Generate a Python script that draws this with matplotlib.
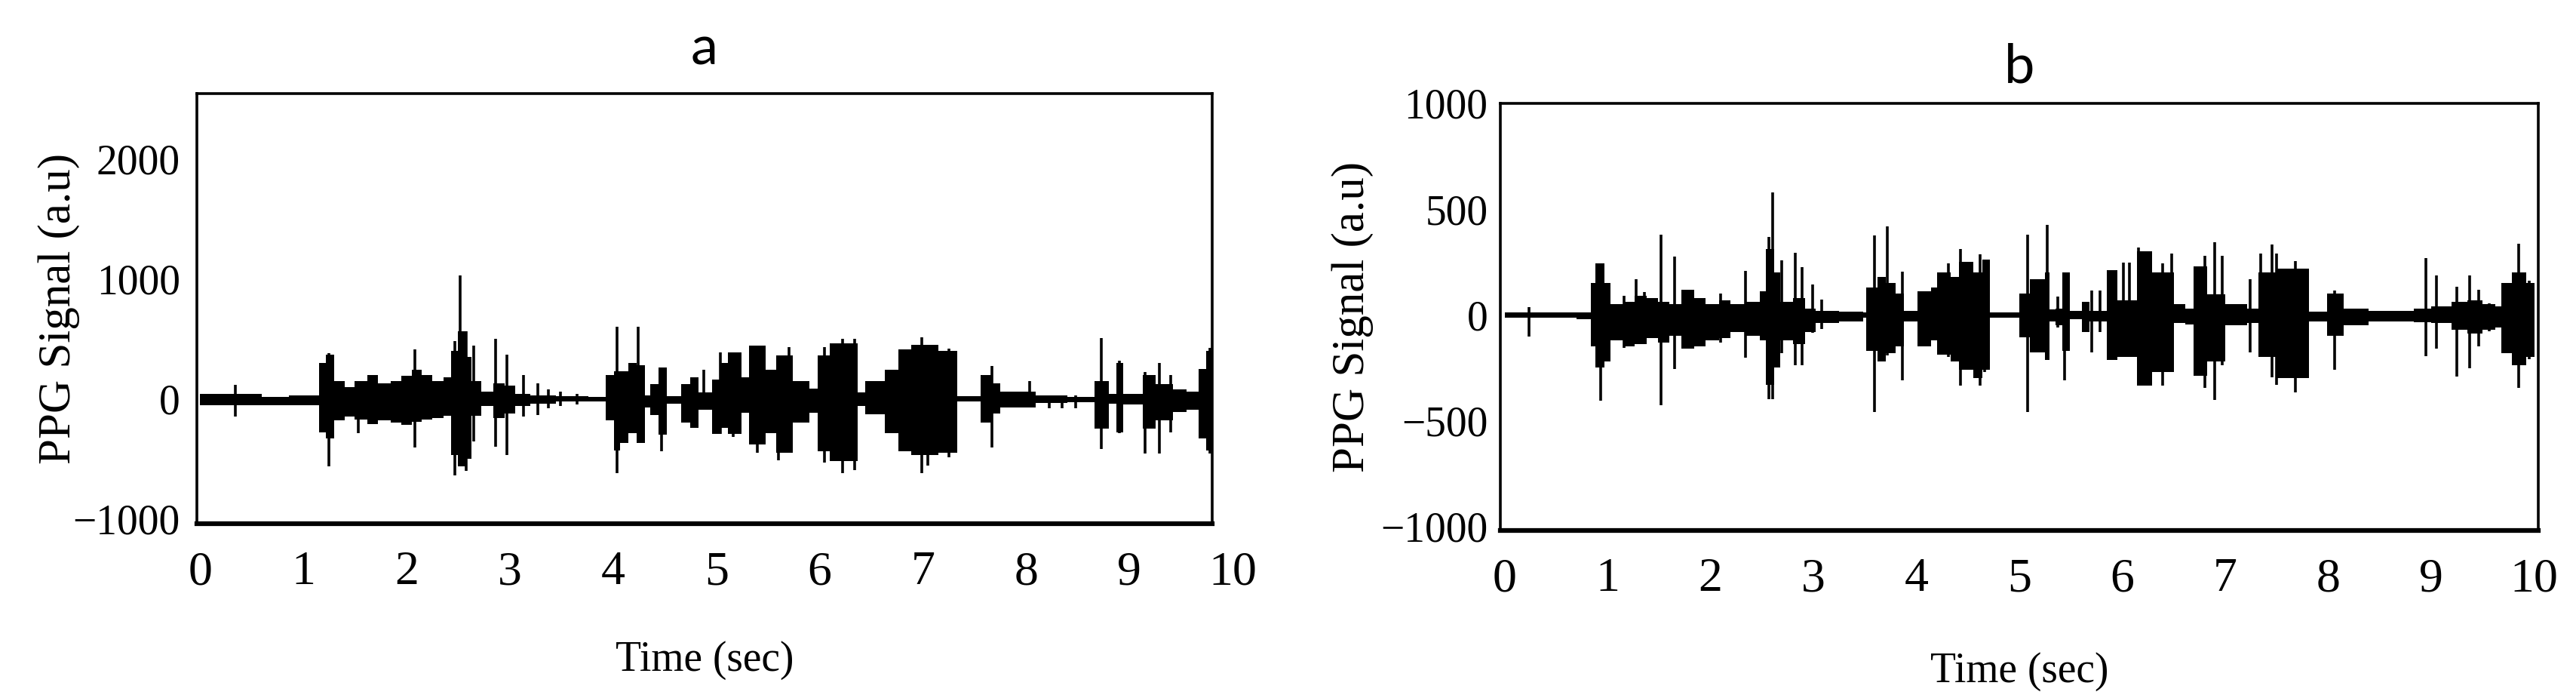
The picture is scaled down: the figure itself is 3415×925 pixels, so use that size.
import numpy as np
import matplotlib.pyplot as plt

# ---- panel a: dense band, piecewise (segment start time, top, bottom) ----
a_seg_t = [0.00, 0.60, 0.86, 1.15, 1.22, 1.30, 1.40, 1.50, 1.62, 1.72, 1.85, 1.95,
           2.05, 2.15, 2.25, 2.36, 2.43, 2.50, 2.58, 2.63, 2.72, 2.84, 2.95, 3.05,
           3.20, 3.45, 3.76, 3.93, 4.01, 4.07, 4.15, 4.23, 4.31, 4.36, 4.44, 4.52,
           4.66, 4.75, 4.83, 4.96, 5.04, 5.11, 5.24, 5.32, 5.48, 5.58, 5.74, 5.90,
           5.98, 6.10, 6.37, 6.44, 6.63, 6.76, 6.89, 7.15, 7.33, 7.56, 7.66, 7.75,
           8.09, 8.40, 8.66, 8.80, 8.87, 8.94, 9.13, 9.25, 9.42, 9.55, 9.67, 9.74]
a_seg_top = [38, 15, 25, 300, 370, 150, 100, 150, 200, 130, 150, 190,
             240, 200, 150, 180, 400, 560, 350, 150, 60, 130, 110, 40,
             30, 20, 17, 200, 230, 230, 300, 280, 30, 125, 260, 20,
             125, 180, 50, 160, 300, 387, 180, 440, 240, 360, 150, 84,
             360, 460, 50, 150, 240, 408, 450, 400, 20, 200, 130, 60,
             25, 15, 150, 40, 300, 40, 200, 120, 80, 60, 250, 400]
a_seg_bot = [-54, -54, -54, -280, -330, -180, -150, -170, -210, -180, -200, -220,
             -190, -170, -160, -140, -470, -560, -500, -140, -60, -160, -120, -60,
             -40, -25, -21, -180, -430, -366, -283, -366, -73, -136, -300, -42,
             -200, -240, -94, -293, -240, -290, -115, -380, -283, -450, -200, -115,
             -440, -520, -60, -130, -283, -440, -470, -450, -21, -200, -120, -70,
             -35, -30, -250, -40, -280, -50, -250, -180, -110, -90, -330, -430]
a_end = 9.80

# ---- panel a: isolated spikes (time, top, bottom) ----
a_spk_t = [0.34, 1.25, 1.53, 2.08, 2.47, 2.52, 2.58, 2.65, 2.86, 2.97, 3.13, 3.27,
           3.37, 3.49, 3.65, 4.04, 4.24, 4.47, 4.80, 4.88, 5.04, 5.16, 5.40, 5.60,
           5.70, 6.05, 6.22, 6.34, 6.99, 7.05, 7.25, 7.67, 8.03, 8.22, 8.35, 8.48,
           8.73, 8.90, 9.15, 9.29, 9.40, 9.78]
a_spk_top = [115, 377, 100, 408, 480, 1026, 560, 440, 500, 365, 200, 126,
             80, 60, 40, 600, 600, 260, 180, 240, 387, 387, 440, 300,
             430, 430, 500, 500, 513, 440, 420, 272, 150, 30, 30, 30,
             507, 318, 225, 297, 200, 423]
a_spk_bot = [-147, -565, -283, -408, -640, -560, -600, -356, -400, -470, -147, -136,
             -80, -60, -50, -618, -366, -440, -240, -94, -293, -320, -450, -513,
             -450, -534, -618, -597, -618, -555, -490, -408, -30, -80, -80, -80,
             -415, -289, -457, -457, -280, -457]

# ---- panel b: dense band ----
b_seg_t = [0.00, 0.70, 0.84, 0.88, 0.97, 1.03, 1.15, 1.26, 1.38, 1.49, 1.60, 1.72,
           1.84, 1.95, 2.08, 2.19, 2.35, 2.48, 2.54, 2.62, 2.68, 2.80, 2.92, 3.02,
           3.25, 3.48, 3.51, 3.62, 3.70, 3.80, 3.88, 4.01, 4.14, 4.20, 4.33, 4.41,
           4.55, 4.64, 4.71, 5.00, 5.10, 5.25, 5.29, 5.35, 5.42, 5.49, 5.61, 5.68,
           5.85, 5.95, 6.14, 6.29, 6.50, 6.61, 6.69, 6.82, 7.00, 7.21, 7.32, 7.50,
           7.81, 7.99, 8.15, 8.39, 8.83, 9.00, 9.20, 9.35, 9.50, 9.62, 9.68, 9.78,
           9.92]
b_seg_top = [10, 10, 150, 245, 150, 50, 60, 90, 80, 60, 50, 120,
             80, 50, 70, 50, 60, 110, 310, 200, 60, 80, 30, 20,
             15, 10, 130, 180, 150, 100, 20, 110, 130, 200, 180, 250,
             200, 260, 10, 100, 170, 200, 26, 30, 200, 20, 62, 20,
             212, 70, 300, 200, 50, 30, 230, 98, 50, 30, 200, 220,
             15, 100, 30, 18, 30, 40, 60, 70, 50, 40, 150, 200,
             150]
b_seg_bot = [-12, -20, -150, -250, -220, -120, -150, -140, -110, -130, -100, -160,
             -150, -120, -110, -80, -100, -120, -330, -250, -120, -140, -80, -40,
             -30, -12, -170, -220, -180, -150, -30, -150, -120, -190, -220, -260,
             -300, -260, -12, -105, -177, -213, -30, -50, -170, -20, -81, -30,
             -213, -200, -333, -270, -40, -45, -290, -220, -50, -40, -200, -300,
             -30, -100, -50, -30, -35, -40, -70, -90, -70, -60, -180, -240,
             -200]
b_end = 10.0

# ---- panel b: isolated spikes ----
b_spk_t = [0.24, 0.93, 1.16, 1.28, 1.36, 1.52, 1.65, 1.76, 2.10, 2.34, 2.57, 2.60,
           2.69, 2.82, 2.89, 2.99, 3.08, 3.59, 3.72, 3.86, 4.31, 4.43, 4.62, 4.66,
           5.08, 5.27, 5.37, 5.44, 5.70, 5.78, 6.01, 6.07, 6.16, 6.39, 6.48, 6.80,
           6.90, 6.97, 7.24, 7.34, 7.45, 7.50, 7.68, 8.06, 8.95, 9.05, 9.25, 9.37,
           9.46, 9.56, 9.85, 9.95]
b_spk_top = [36, 245, 90, 167, 108, 380, 275, 120, 100, 209, 370, 580,
             257, 293, 227, 144, 72, 377, 419, 203, 245, 311, 287, 220,
             380, 427, 86, 200, 116, 116, 248, 248, 320, 242, 290, 278,
             343, 278, 170, 290, 331, 290, 254, 116, 269, 185, 132, 185,
             120, 54, 335, 160]
b_spk_bot = [-102, -407, -155, -120, -130, -428, -257, -160, -130, -203, -400, -400,
             -180, -239, -239, -85, -66, -460, -191, -311, -200, -335, -335, -270,
             -458, -213, -60, -309, -177, -81, -200, -180, -333, -333, -250, -345,
             -404, -240, -177, -200, -297, -330, -368, -261, -197, -161, -293, -251,
             -150, -78, -347, -210]

serif = "Liberation Serif"

fig = plt.figure(figsize=(34.16, 9.25), dpi=100)
ax_a = fig.add_axes([0.0764, 0.2497, 0.394, 0.6162])
ax_b = fig.add_axes([0.5823, 0.2400, 0.4028, 0.6119])


def draw_panel(ax, seg_t, seg_top, seg_bot, t_end, spk_t, spk_top, spk_bot):
    t = np.append(seg_t, t_end)
    top = np.append(seg_top, seg_top[-1])
    bot = np.append(seg_bot, seg_bot[-1])
    ax.fill_between(t, bot, top, step="post", color="black", lw=0)
    ax.vlines(spk_t, spk_bot, spk_top, color="black", lw=2.6)
    for side in ["top", "bottom", "left", "right"]:
        ax.spines[side].set_linewidth(2.6)
    ax.spines["bottom"].set_linewidth(4.5)
    ax.tick_params(length=0, labelsize=40)
    ax.tick_params(axis="x", pad=26, labelsize=46)


# panel a
draw_panel(ax_a, a_seg_t, a_seg_top, a_seg_bot, a_end, a_spk_t, a_spk_top, a_spk_bot)
ax_a.set_xlim(-0.03, 9.8)
ax_a.set_ylim(-1040, 2540)
ax_a.set_xticks(range(0, 10))
ax_a.set_yticks([-1000, 0, 1000, 2000])
ax_a.set_xticklabels([str(i) for i in range(0, 10)], fontfamily=serif)
ax_a.set_yticklabels(["\u22121000", "0", "1000", "2000"], fontfamily=serif)
ax_a.tick_params(axis="y", pad=16)
# the 10 label sits just past the end of the frame
ax_a.annotate("10", xy=(10, 0), xycoords=("data", "axes fraction"),
              xytext=(0, -26), textcoords="offset points",
              ha="center", va="top", fontsize=46, fontfamily=serif, annotation_clip=False)
ax_a.set_xlabel("Time (sec)", fontsize=40, fontfamily=serif, labelpad=44)
ax_a.set_ylabel("PPG Signal (a.u)", fontsize=44, fontfamily=serif)
ax_a.yaxis.set_label_coords(-0.115, 0.5)
ax_a.set_title("a", fontsize=52, fontfamily="Lato", pad=28)

# panel b
draw_panel(ax_b, b_seg_t, b_seg_top, b_seg_bot, b_end, b_spk_t, b_spk_top, b_spk_bot)
ax_b.set_xlim(-0.04, 10.04)
ax_b.set_ylim(-1020, 1000)
ax_b.set_xticks(range(0, 11))
ax_b.set_yticks([-1000, -500, 0, 500, 1000])
ax_b.set_xticklabels([str(i) for i in range(0, 11)], fontfamily=serif)
ax_b.set_yticklabels(["\u22121000", "\u2212500", "0", "500", "1000"], fontfamily=serif)
ax_b.tick_params(axis="y", pad=12)
ax_b.set_xlabel("Time (sec)", fontsize=40, fontfamily=serif, labelpad=48)
ax_b.set_ylabel("PPG Signal (a.u)", fontsize=44, fontfamily=serif)
ax_b.yaxis.set_label_coords(-0.122, 0.5)
ax_b.set_title("b", fontsize=52, fontfamily="Lato", pad=20)

fig.savefig("out.png", dpi=100)
